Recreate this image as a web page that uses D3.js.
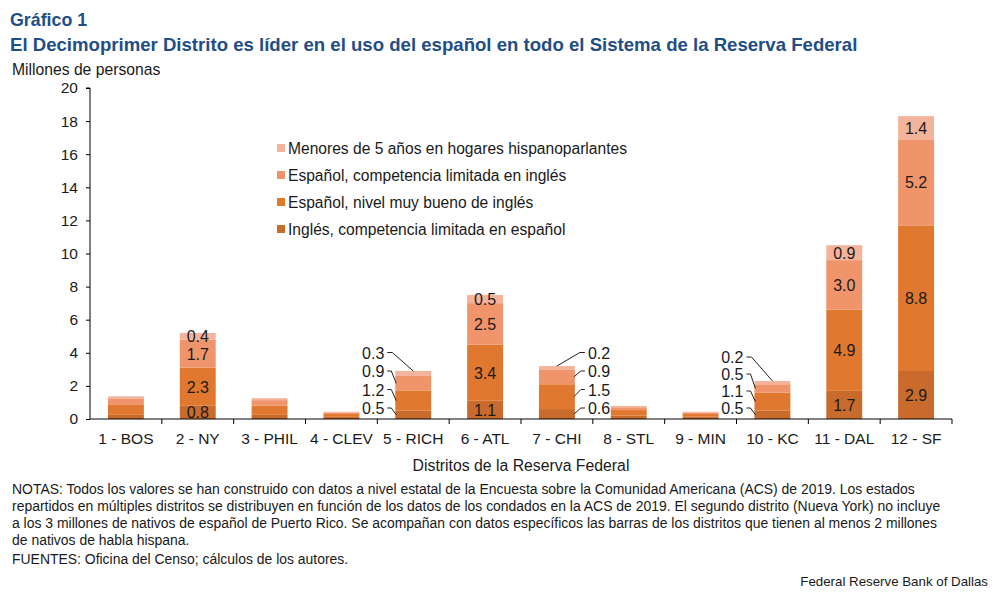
<!DOCTYPE html>
<html>
<head>
<meta charset="utf-8">
<script src="https://cdn.jsdelivr.net/npm/d3@7"></script>
<style>
  body { margin: 0; background: #fff; }
  svg text { font-family: "Liberation Sans", Arial, sans-serif; fill: #1a1a1a; }
</style>
</head>
<body>
<div class="chart"></div>
<script>
// districts, bottom-to-top stack layers
const districts = ['1 - BOS', '2 - NY', '3 - PHIL', '4 - CLEV', '5 - RICH', '6 - ATL',
  '7 - CHI', '8 - STL', '9 - MIN', '10 - KC', '11 - DAL', '12 - SF'];
const englishLimitedSpanish = [0.25, 0.8, 0.25, 0.13, 0.5, 1.1, 0.6, 0.2, 0.14, 0.5, 1.7, 2.9];
const spanishGoodEnglish    = [0.6, 2.3, 0.55, 0.17, 1.2, 3.4, 1.5, 0.34, 0.16, 1.1, 4.9, 8.8];
const spanishLimitedEnglish = [0.4, 1.7, 0.34, 0.09, 0.9, 2.5, 0.9, 0.17, 0.09, 0.5, 3.0, 5.2];
const under5SpanishHomes    = [0.12, 0.4, 0.12, 0.05, 0.3, 0.5, 0.2, 0.08, 0.05, 0.2, 0.9, 1.4];
const seriesNames = [
  'Inglés, competencia limitada en español',
  'Español, nivel muy bueno de inglés',
  'Español, competencia limitada en inglés',
  'Menores de 5 años en hogares hispanoparlantes'
];
const yTicks = [0, 2, 4, 6, 8, 10, 12, 14, 16, 18, 20];
// where value labels go: inside the bar, or outside on one side
const labelPlacement = { '2 - NY': 'inside', '6 - ATL': 'inside', '11 - DAL': 'inside', '12 - SF': 'inside',
  '5 - RICH': 'left', '7 - CHI': 'right', '10 - KC': 'left' };
const labelStep = { '5 - RICH': 18.5, '7 - CHI': 18.5, '10 - KC': 17 };

const colors = ['#c96b2c', '#e07830', '#f0956b', '#f4b49c'];
const keys = ['a', 'b', 'c', 'd'];
const rows = districts.map((d, i) => ({
  district: d,
  a: englishLimitedSpanish[i], b: spanishGoodEnglish[i],
  c: spanishLimitedEnglish[i], d: under5SpanishHomes[i]
}));

const W = 1001, H = 596;
const svg = d3.select('.chart').append('svg').attr('width', W).attr('height', H);

const x = d3.scaleBand().domain(districts).range([90, 952]).paddingInner(0.5).paddingOuter(0.25);
const y = d3.scaleLinear().domain([0, 20]).range([419, 88]);

const stack = d3.stack().keys(keys)(rows);

// titles
svg.append('text').attr('x', 10).attr('y', 26).text('Gráfico 1')
  .style('font-size', '17.8px').style('font-weight', 'bold').style('fill', '#1f4e87');
svg.append('text').attr('x', 10).attr('y', 51)
  .text('El Decimoprimer Distrito es líder en el uso del español en todo el Sistema de la Reserva Federal')
  .style('font-size', '18.6px').style('font-weight', 'bold').style('fill', '#1f4e87');
svg.append('text').attr('x', 12).attr('y', 75).text('Millones de personas').style('font-size', '15.7px');

// bars
svg.append('g').selectAll('g').data(stack).join('g')
  .attr('fill', (d, i) => colors[i])
  .selectAll('rect').data(d => d).join('rect')
  .attr('x', d => x(d.data.district))
  .attr('width', x.bandwidth())
  .attr('y', d => y(d[1]))
  .attr('height', d => y(d[0]) - y(d[1]));

// axes
const yAxis = d3.axisLeft(y).tickValues(yTicks).tickSize(4).tickPadding(8);
const gy = svg.append('g').attr('transform', 'translate(90,0)').call(yAxis);
gy.select('.domain').attr('d', 'M-4,' + y(20) + 'H0V' + y(0));
gy.selectAll('text').style('font-size', '15.5px');

const gx = svg.append('g').attr('transform', 'translate(0,419)');
gx.append('line').attr('x1', 90).attr('x2', 952).attr('stroke', '#000');
gx.selectAll('.tk').data(districts).join('line')
  .attr('x1', d => x(d) + x.bandwidth() * 1.5).attr('x2', d => x(d) + x.bandwidth() * 1.5)
  .attr('y1', 0).attr('y2', 5).attr('stroke', '#000');
gx.selectAll('.lbl').data(districts).join('text')
  .attr('x', d => x(d) + x.bandwidth() / 2).attr('y', 25)
  .attr('text-anchor', 'middle').style('font-size', '15.5px').text(d => d);

svg.append('text').attr('x', 521).attr('y', 471).attr('text-anchor', 'middle')
  .style('font-size', '15.8px').text('Distritos de la Reserva Federal');

// value labels
const lab = svg.append('g');
rows.forEach((r, i) => {
  const mode = labelPlacement[r.district];
  if (!mode) return;
  const cx = x(r.district) + x.bandwidth() / 2;
  stack.forEach((layer, k) => {
    const seg = layer[i];
    const txt = r[keys[k]].toFixed(1);
    if (mode === 'inside') {
      lab.append('text').attr('x', cx).attr('y', y((seg[0] + seg[1]) / 2) + 6)
        .attr('text-anchor', 'middle').style('font-size', '16px').text(txt);
      return;
    }
    const ly = y(0) - 11 - k * labelStep[r.district];
    const left = mode === 'left';
    const edge = left ? x(r.district) : x(r.district) + x.bandwidth();
    const tx = left ? edge - 11 : edge + 13;
    lab.append('text').attr('x', tx).attr('y', ly + 6)
      .attr('text-anchor', left ? 'end' : 'start').style('font-size', '16px').text(txt);
    const s = left ? 1 : -1;
    let p;
    if (k === keys.length - 1) {
      p = 'M' + (tx + s * 3) + ',' + ly + 'H' + (tx + s * 8) + 'L' + cx + ',' + y(seg[1]);
    } else {
      p = 'M' + (tx + s * 3) + ',' + ly + 'H' + (tx + s * 7) + 'L' + (edge + s) + ',' + y((seg[0] + seg[1]) / 2);
    }
    lab.append('path').attr('d', p).attr('fill', 'none').attr('stroke', '#222').attr('stroke-width', 1);
  });
});

// legend
const lg = svg.append('g').attr('transform', 'translate(277,148)');
const legendOrder = [3, 2, 1, 0];
legendOrder.forEach((k, j) => {
  lg.append('rect').attr('x', 0).attr('y', j * 27 - 4).attr('width', 8).attr('height', 8).attr('fill', colors[k]);
  lg.append('text').attr('x', 11).attr('y', j * 27 + 5.5).style('font-size', '15.6px').text(seriesNames[k]);
});

// notes
const notes = [
  'NOTAS: Todos los valores se han construido con datos a nivel estatal de la Encuesta sobre la Comunidad Americana (ACS) de 2019. Los estados',
  'repartidos en múltiples distritos se distribuyen en función de los datos de los condados en la ACS de 2019. El segundo distrito (Nueva York) no incluye',
  'a los 3 millones de nativos de español de Puerto Rico. Se acompañan con datos específicos las barras de los distritos que tienen al menos 2 millones',
  'de nativos de habla hispana.'
];
notes.forEach((t, i) => {
  svg.append('text').attr('x', 12).attr('y', 494 + i * 17).style('font-size', '13.95px').text(t);
});
svg.append('text').attr('x', 12).attr('y', 564).style('font-size', '13.95px')
  .text('FUENTES: Oficina del Censo; cálculos de los autores.');
svg.append('text').attr('x', 988).attr('y', 586).attr('text-anchor', 'end').style('font-size', '13.3px')
  .text('Federal Reserve Bank of Dallas');
</script>
</body>
</html>
